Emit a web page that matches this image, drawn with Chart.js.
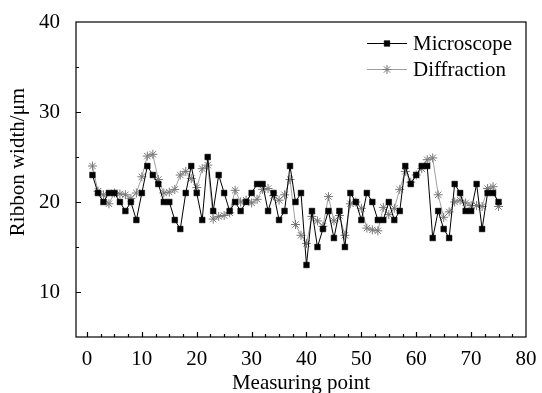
<!DOCTYPE html>
<html>
<head>
<meta charset="utf-8">
<script src="https://cdn.jsdelivr.net/npm/chart.js@4/dist/chart.umd.min.js"></script>
<style>
  html, body { margin: 0; padding: 0; background: #fff; }
</style>
</head>
<body>
<canvas id="myChart" width="542" height="393"></canvas>
<script>
// 測定点
const points = [
  1, 2, 3, 4, 5, 6, 7, 8, 9, 10, 11, 12, 13, 14, 15, 16, 17, 18, 19, 20,
  21, 22, 23, 24, 25, 26, 27, 28, 29, 30, 31, 32, 33, 34, 35, 36, 37, 38, 39, 40,
  41, 42, 43, 44, 45, 46, 47, 48, 49, 50, 51, 52, 53, 54, 55, 56, 57, 58, 59, 60,
  61, 62, 63, 64, 65, 66, 67, 68, 69, 70, 71, 72, 73, 74, 75
];

const microscope = [
  23, 21, 20, 21, 21, 20, 19, 20, 18, 21, 24, 23, 22, 20, 20, 18, 17, 21, 24, 21,
  18, 25, 19, 23, 21, 19, 20, 19, 20, 21, 22, 22, 19, 21, 18, 19, 24, 20, 21, 13,
  19, 15, 17, 19, 16, 19, 15, 21, 20, 18, 21, 20, 18, 18, 20, 18, 19, 24, 22, 23,
  24, 24, 16, 19, 17, 16, 22, 21, 19, 19, 22, 17, 21, 21, 20
];

const diffraction = [
  24.0, 21.2, 20.8, 19.8, 21.0, 20.9, 20.8, 20.4, 21.0, 22.8, 25.1, 25.3, 22.5, 21.0, 21.1, 21.4, 23.0, 23.4, 22.6, 21.6,
  23.7, 24.1, 18.1, 18.4, 18.5, 18.8, 21.3, 20.0, 20.2, 19.9, 20.3, 21.4, 21.5, 20.7, 20.2, 20.8, 22.5, 17.5, 16.3, 15.4,
  18.4, 17.9, 17.3, 20.6, 17.9, 18.5, 16.3, 19.8, 20.0, 19.3, 17.1, 16.9, 16.8, 19.4, 18.6, 19.3, 21.4, 23.4, 22.2, 23.0,
  23.7, 24.7, 24.9, 20.8, 18.3, 18.9, 20.0, 20.2, 19.9, 19.6, 19.6, 19.5, 21.5, 21.7, 19.5
];

const seriesNames = ['Microscope', 'Diffraction'];
const yTitle = 'Ribbon width/μm';

// 目盛り（内向き）
const xTickMarks = [];
for (let v = 0; v < 80; v += 2.5) xTickMarks.push(v);
const yTickMarks = [10, 15, 20, 25, 30, 35];

const FONT = 'Liberation Serif';
const FSIZE = 21;

const toXY = arr => arr.map((v, i) => ({ x: points[i], y: v }));

// 枠・目盛り・凡例・縦軸タイトルを描くプラグイン
const framePlugin = {
  id: 'frameAndLegend',
  afterDraw(chart) {
    const ctx = chart.ctx;
    const a = chart.chartArea;
    const xs = chart.scales.x;
    const ys = chart.scales.y;
    ctx.save();
    ctx.strokeStyle = '#000';
    ctx.lineWidth = 1.2;
    ctx.strokeRect(a.left, a.top, a.right - a.left, a.bottom - a.top);

    ctx.beginPath();
    xTickMarks.forEach(v => {
      const px = Math.round(xs.getPixelForValue(v)) + 0.5;
      const len = v % 10 === 0 ? 5 : 3;
      ctx.moveTo(px, a.bottom);
      ctx.lineTo(px, a.bottom - len);
    });
    yTickMarks.forEach(v => {
      const py = Math.round(ys.getPixelForValue(v)) + 0.5;
      const len = v % 10 === 0 ? 5 : 3;
      ctx.moveTo(a.left, py);
      ctx.lineTo(a.left + len, py);
    });
    ctx.stroke();

    // 縦軸タイトル
    ctx.save();
    ctx.translate(18, 162);
    ctx.rotate(-Math.PI / 2);
    ctx.fillStyle = '#000';
    ctx.font = FSIZE + 'px "' + FONT + '"';
    ctx.textAlign = 'center';
    ctx.textBaseline = 'middle';
    ctx.fillText(yTitle, 0, 0);
    ctx.restore();

    // 凡例
    const rows = [a.top + 21, a.top + 47];
    chart.data.datasets.forEach((ds, i) => {
      const y = rows[i] + 0.5;
      const x0 = a.right - 159;
      const x1 = a.right - 119;
      ctx.strokeStyle = ds.borderColor;
      ctx.lineWidth = ds.borderWidth;
      ctx.beginPath();
      ctx.moveTo(x0, y);
      ctx.lineTo(x1, y);
      ctx.stroke();
      ctx.fillStyle = ds.pointBackgroundColor;
      ctx.strokeStyle = ds.pointBorderColor;
      ctx.lineWidth = ds.pointBorderWidth;
      Chart.helpers.drawPoint(ctx, {
        pointStyle: ds.pointStyle,
        radius: ds.pointRadius,
        rotation: 0,
        borderWidth: ds.pointBorderWidth
      }, (x0 + x1) / 2, y);
      ctx.fillStyle = '#000';
      ctx.font = FSIZE + 'px "' + FONT + '"';
      ctx.textBaseline = 'middle';
      ctx.textAlign = 'left';
      ctx.fillText(ds.label, x1 + 6, y + 1);
    });
    ctx.restore();
  }
};

const ctx = document.getElementById('myChart').getContext('2d');
new Chart(ctx, {
  type: 'line',
  data: {
    datasets: [{
      label: seriesNames[0],
      data: toXY(microscope),
      borderColor: '#000',
      borderWidth: 1,
      pointStyle: 'rect',
      pointRadius: 4,
      pointBackgroundColor: '#000',
      pointBorderColor: '#000',
      pointBorderWidth: 0.5,
      tension: 0
    }, {
      label: seriesNames[1],
      data: toXY(diffraction),
      borderColor: '#a0a0a0',
      borderWidth: 1,
      pointStyle: 'star',
      pointRadius: 4.5,
      pointBackgroundColor: '#777',
      pointBorderColor: '#777',
      pointBorderWidth: 1,
      tension: 0
    }]
  },
  options: {
    responsive: false,
    animation: false,
    devicePixelRatio: 1,
    layout: { padding: { top: 22, right: 16, left: 0, bottom: 0 } },
    plugins: {
      legend: { display: false },
      tooltip: { enabled: false }
    },
    scales: {
      x: {
        type: 'linear',
        min: -2,
        max: 80,
        grid: { display: false },
        border: { display: false },
        ticks: {
          stepSize: 10,
          includeBounds: false,
          color: '#000',
          padding: 2,
          maxRotation: 0,
          font: { family: FONT, size: FSIZE }
        },
        title: {
          display: true,
          text: 'Measuring point',
          color: '#000',
          padding: { top: 0, bottom: -3 },
          font: { family: FONT, size: FSIZE }
        },
        afterFit(scale) { scale.height = 56; }
      },
      y: {
        min: 5,
        max: 40,
        grid: { display: false },
        border: { display: false },
        ticks: {
          stepSize: 10,
          includeBounds: false,
          color: '#000',
          padding: 8,
          font: { family: FONT, size: FSIZE }
        },
        afterFit(scale) { scale.width = 76; }
      }
    }
  },
  plugins: [framePlugin]
});
</script>
</body>
</html>
